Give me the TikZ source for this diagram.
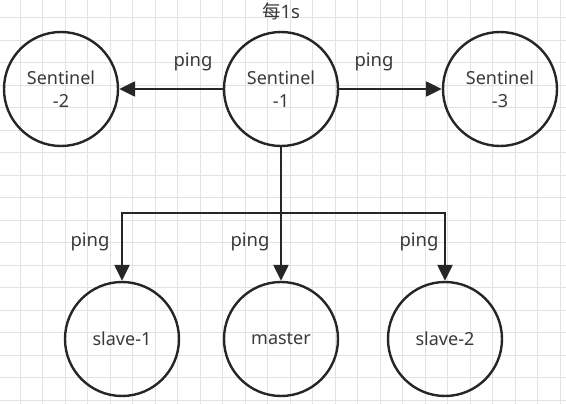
\documentclass[tikz,border=0pt]{standalone}
\usepackage{fontspec}
\setmainfont{Noto Sans}
\newfontfamily\cjk{Noto Sans CJK SC}
\usetikzlibrary{arrows.meta}
\definecolor{txt}{HTML}{3A3A3A}
\definecolor{gridc}{HTML}{E2E2E2}
\tikzset{
  circ/.style={circle, draw=black!85, line width=2.4pt, minimum size=114pt, inner sep=0pt, align=center, text=txt, font=\fontsize{18}{23}\selectfont},
  lbl/.style={text=txt, font=\fontsize{18.5}{22}\selectfont, inner sep=0pt},
  arr/.style={draw=black!85, line width=2.4pt, -{Triangle[length=16pt,width=15pt]}},
  wire/.style={draw=black!85, line width=2.4pt},
  gridline/.style={draw=gridc, line width=0.9pt}
}
\begin{document}
\begin{tikzpicture}[x=1pt,y=-1pt]
\useasboundingbox (0,0) rectangle (566,404);
\fill[white] (0,0) rectangle (566,404);
\foreach \k in {0,...,26} {
  \draw[gridline] ({-2.5+22.5*\k},0) -- ({-2.5+22.5*\k},404);
}
\foreach \k in {0,...,18} {
  \draw[gridline] (0,{17.5+22.5*\k}) -- (566,{17.5+22.5*\k});
}
\node[circ] (s2) at (61,89) {Sentinel\\-2};
\node[circ] (s1) at (281,89) {Sentinel\\-1};
\node[circ] (s3) at (500,89) {Sentinel\\-3};
\node[circ] (sl1) at (122,339) {slave-1};
\node[circ] (m) at (281,339) {master};
\node[circ] (sl2) at (445,339) {slave-2};
\node[lbl] (t) at (281,11) {{\cjk 每}1s};
\coordinate (j) at (281,213);
\draw[arr] (s1) -- (s2);
\draw[arr] (s1) -- (s3);
\draw[wire] (s1.south) -- (j);
\draw[arr] (j) -- (m.north);
\draw[arr] (j) -| (sl1.north);
\draw[arr] (j) -| (sl2.north);
\node[lbl] (p1) at (193,62) {ping};
\node[lbl] (p2) at (374,62) {ping};
\node[lbl] (p3) at (90,242) {ping};
\node[lbl] (p4) at (250,242) {ping};
\node[lbl] (p5) at (419,242) {ping};
\end{tikzpicture}
\end{document}
